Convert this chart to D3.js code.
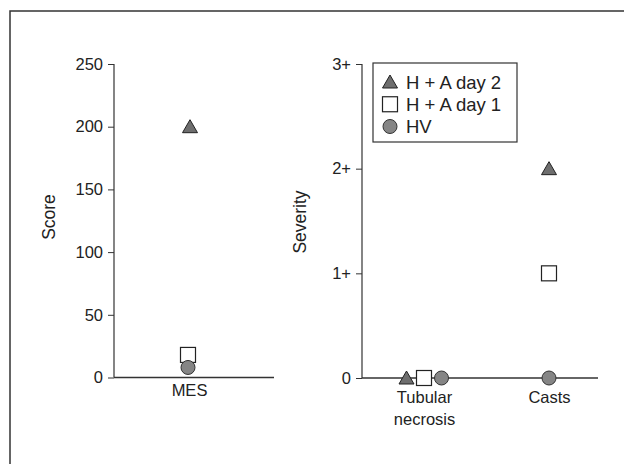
<!DOCTYPE html>
<html>
<head>
<meta charset="utf-8">
<script src="https://cdn.jsdelivr.net/npm/d3@7"></script>
<style>
  body { margin: 0; background: #fff; }
  svg { display: block; font-family: "Liberation Sans", Arial, sans-serif; }
  .tick text { font-size: 16.5px; fill: #222; }
  .tick line { stroke: #333; }
  .label { font-size: 17.5px; fill: #222; }
  .legend-text { font-size: 18.5px; fill: #222; }
</style>
</head>
<body>
<div id="chart"></div>
<script>
// left panel: MES score
var scoreCats = ['MES'];
var scoreDay2 = [200];
var scoreDay1 = [18];
var scoreHV = [8];
var scoreTicks = [0, 50, 100, 150, 200, 250];

// right panel: severity
var sevCats = ['Tubular necrosis', 'Casts'];
var sevDay2 = [0, 2];
var sevDay1 = [0, 1];
var sevHV = [0, 0];
var sevTicks = [0, 1, 2, 3];
var sevTickLabels = ['0', '1+', '2+', '3+'];

var seriesNames = ['H + A day 2', 'H + A day 1', 'HV'];
var seriesShapes = ['triangle', 'square', 'circle'];

var svg = d3.select('#chart').append('svg')
  .attr('width', 624).attr('height', 464);

// frame lines of the scanned page
svg.append('path')
  .attr('d', 'M10,464 V11 H624')
  .attr('fill', 'none').attr('stroke', '#333').attr('stroke-width', 1.5);

function drawMarker(g, shape, x, y) {
  if (shape === 'triangle') {
    g.append('path')
      .attr('d', 'M' + x + ',' + (y - 7) + ' L' + (x + 7.5) + ',' + (y + 6) + ' L' + (x - 7.5) + ',' + (y + 6) + ' z')
      .attr('fill', '#6e6e6e').attr('stroke', '#222').attr('stroke-width', 1);
  } else if (shape === 'square') {
    g.append('rect')
      .attr('x', x - 7.5).attr('y', y - 7.5)
      .attr('width', 15).attr('height', 15)
      .attr('fill', '#fff').attr('stroke', '#222').attr('stroke-width', 1.2);
  } else {
    g.append('circle')
      .attr('cx', x).attr('cy', y).attr('r', 7)
      .attr('fill', '#858585').attr('stroke', '#333').attr('stroke-width', 1);
  }
}

function drawPanel(opts) {
  var g = svg.append('g');
  var y = d3.scaleLinear().domain(opts.yDomain).range([opts.y0, opts.y1]);
  var x = d3.scalePoint().domain(opts.cats).range(opts.xRange).padding(opts.xPad);

  var yAxis = d3.axisLeft(y).tickValues(opts.ticks).tickSize(6).tickPadding(5)
    .tickFormat(function (d, i) { return opts.tickLabels ? opts.tickLabels[i] : d; });
  var ya = g.append('g').attr('transform', 'translate(' + opts.x0 + ',0)').call(yAxis);
  ya.select('.domain').remove();
  ya.selectAll('text').attr('font-family', null).attr('font-size', null);

  var xAxis = d3.axisBottom(x).tickSize(0).tickPadding(opts.xPadText);
  var xa = g.append('g').attr('transform', 'translate(0,' + opts.y0 + ')').call(xAxis);
  xa.select('.domain').remove();
  xa.selectAll('text').attr('font-family', null).attr('font-size', null)
    .each(function (d) {
      var words = d.split(' ');
      if (words.length > 1) {
        var t = d3.select(this).text(null);
        words.forEach(function (w, i) {
          t.append('tspan').attr('x', 0).attr('dy', i === 0 ? '0.71em' : '1.35em').text(w);
        });
        t.attr('dy', null);
      }
    });

  // axis lines
  g.append('line')
    .attr('x1', opts.x0).attr('x2', opts.x0)
    .attr('y1', y(opts.yDomain[1])).attr('y2', opts.y0)
    .attr('stroke', '#333').attr('stroke-width', 1.2);
  g.append('line')
    .attr('x1', opts.x0).attr('x2', opts.xEnd)
    .attr('y1', opts.y0).attr('y2', opts.y0)
    .attr('stroke', '#333').attr('stroke-width', 1.5);

  g.append('text').attr('class', 'label')
    .attr('transform', 'translate(' + opts.titleX + ',' + opts.titleY + ') rotate(-90)')
    .attr('text-anchor', 'middle').attr('dominant-baseline', 'middle')
    .text(opts.title);

  opts.cats.forEach(function (c, i) {
    var vals = opts.series.map(function (s) { return s[i]; });
    var same = vals.every(function (v) { return v === vals[0]; });
    vals.forEach(function (v, k) {
      var dx = same ? (k - 1) * 17.5 : opts.shift[k];
      drawMarker(g, seriesShapes[k], x(c) + dx, y(v));
    });
  });
  return g;
}

drawPanel({
  cats: scoreCats, series: [scoreDay2, scoreDay1, scoreHV],
  yDomain: [0, 250], y0: 377.5, y1: 64, ticks: scoreTicks,
  x0: 114, xEnd: 274, xRange: [114, 264], xPad: 0.5, xPadText: 7,
  shift: [1, -1, -1],
  title: 'Score', titleX: 50, titleY: 217
});

drawPanel({
  cats: sevCats, series: [sevDay2, sevDay1, sevHV],
  yDomain: [0, 3], y0: 378, y1: 64, ticks: sevTicks, tickLabels: sevTickLabels,
  x0: 362, xEnd: 598, xRange: [424, 549], xPad: 0, xPadText: 13,
  shift: [0, 0, 0],
  title: 'Severity', titleX: 301, titleY: 222
});

// legend
var legend = svg.append('g');
legend.append('rect')
  .attr('x', 373).attr('y', 63).attr('width', 144).attr('height', 79)
  .attr('fill', '#fff').attr('stroke', '#333').attr('stroke-width', 1.2);
var rowY = d3.scalePoint().domain(seriesNames).range([82, 126.5]);
seriesNames.forEach(function (n, k) {
  drawMarker(legend, seriesShapes[k], 390, rowY(n));
  legend.append('text').attr('class', 'legend-text')
    .attr('x', 406).attr('y', rowY(n))
    .attr('dominant-baseline', 'central')
    .text(n);
});
</script>
</body>
</html>
